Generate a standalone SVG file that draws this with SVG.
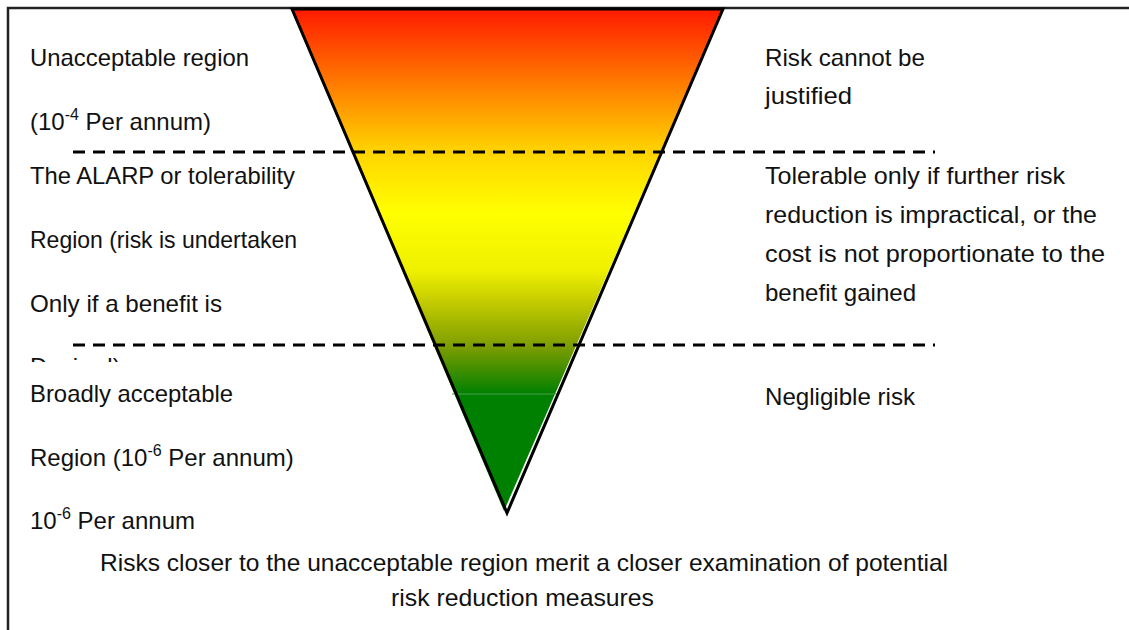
<svg xmlns="http://www.w3.org/2000/svg" width="1129" height="630" viewBox="0 0 1129 630">
<style>
  text { font-family: "Liberation Sans", Arial, sans-serif; font-size: 24px; fill: #111; }
  .sup { font-size: 16px; }
  .dash { stroke: #000; stroke-width: 3; stroke-dasharray: 12 8; fill: none; }
</style>
<defs>
  <linearGradient id="riskGrad" gradientUnits="userSpaceOnUse" x1="0" y1="9" x2="0" y2="394">
    <stop offset="0" stop-color="#ff1a00"/>
    <stop offset="0.37" stop-color="#ffd400"/>
    <stop offset="0.53" stop-color="#ffff00"/>
    <stop offset="0.68" stop-color="#eef000"/>
    <stop offset="0.76" stop-color="#c4cc00"/>
    <stop offset="0.88" stop-color="#7a9c00"/>
    <stop offset="1" stop-color="#008000"/>
  </linearGradient>
  <clipPath id="cutDesired">
    <rect x="0" y="340" width="300" height="22"/>
  </clipPath>
</defs>
<rect x="0" y="0" width="1129" height="630" fill="#fff"/>
<g id="frame">
  <path d="M8,630 V8 H1129" fill="none" stroke="#222" stroke-width="2.5"/>
</g>
<g id="funnel">
  <polygon points="291,9 723,9 504,511" fill="url(#riskGrad)"/>
  <line x1="452" y1="394" x2="557" y2="394" stroke="#4d9f4d" stroke-width="1"/>
  <polygon points="292,9 723,9 507,513" fill="none" stroke="#000" stroke-width="3" stroke-linejoin="miter"/>
</g>
<g id="connectors">
  <line class="dash" x1="73" y1="152" x2="935" y2="152"/>
  <line class="dash" x1="73" y1="345" x2="935" y2="345"/>
</g>
<g id="left-unacceptable">
  <text x="30" y="66" textLength="219" lengthAdjust="spacingAndGlyphs">Unacceptable region</text>
  <text x="30" y="130">(10<tspan class="sup" dy="-10">-4</tspan><tspan dy="10"> Per annum)</tspan></text>
</g>
<g id="left-alarp">
  <text x="30" y="184" textLength="265" lengthAdjust="spacingAndGlyphs">The ALARP or tolerability</text>
  <text x="30" y="248" textLength="267" lengthAdjust="spacingAndGlyphs">Region (risk is undertaken</text>
  <text x="30" y="312" textLength="192" lengthAdjust="spacingAndGlyphs">Only if a benefit is</text>
  <text x="30" y="375" clip-path="url(#cutDesired)">Desired)</text>
</g>
<g id="left-broadly">
  <text x="30" y="402" textLength="203" lengthAdjust="spacingAndGlyphs">Broadly acceptable</text>
  <text x="30" y="466">Region (10<tspan class="sup" dy="-10">-6</tspan><tspan dy="10"> Per annum)</tspan></text>
  <text x="30" y="529">10<tspan class="sup" dy="-10">-6</tspan><tspan dy="10"> Per annum</tspan></text>
</g>
<g id="right-unacceptable">
  <text x="765" y="66" textLength="160" lengthAdjust="spacingAndGlyphs">Risk cannot be</text>
  <text x="765" y="104" textLength="87" lengthAdjust="spacingAndGlyphs">justified</text>
</g>
<g id="right-alarp">
  <text x="765" y="184" textLength="300" lengthAdjust="spacingAndGlyphs">Tolerable only if further risk</text>
  <text x="765" y="223" textLength="332" lengthAdjust="spacingAndGlyphs">reduction is impractical, or the</text>
  <text x="765" y="262" textLength="340" lengthAdjust="spacingAndGlyphs">cost is not proportionate to the</text>
  <text x="765" y="301" textLength="151" lengthAdjust="spacingAndGlyphs">benefit gained</text>
</g>
<g id="right-broadly">
  <text x="765" y="405" textLength="150" lengthAdjust="spacingAndGlyphs">Negligible risk</text>
</g>
<g id="caption">
  <text x="100" y="571" textLength="848" lengthAdjust="spacingAndGlyphs">Risks closer to the unacceptable region merit a closer examination of potential</text>
  <text x="391" y="606" textLength="263" lengthAdjust="spacingAndGlyphs">risk reduction measures</text>
</g>
</svg>
